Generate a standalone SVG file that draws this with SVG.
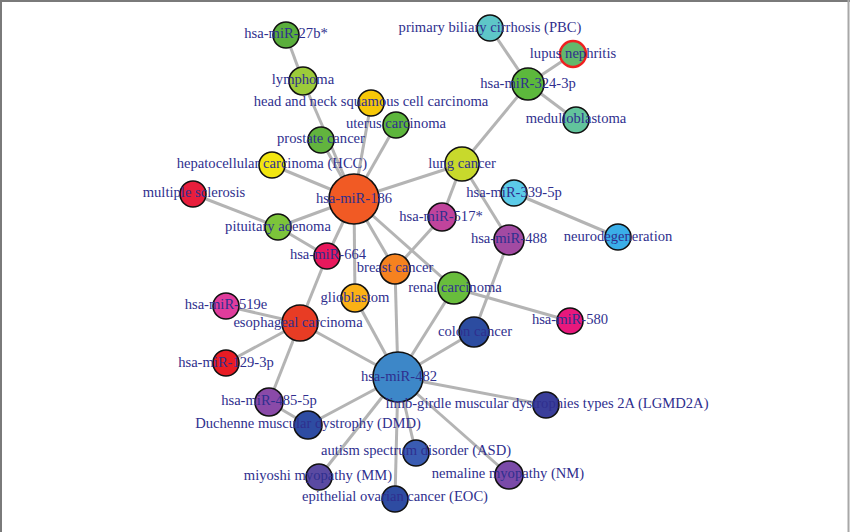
<svg xmlns="http://www.w3.org/2000/svg" width="850" height="532" viewBox="0 0 850 532">
<style>
.e{stroke:#b4b4b4;stroke-width:3;fill:none}
.n{stroke:#111;stroke-width:1.6}
.t{font-family:"Liberation Serif","Times New Roman",serif;font-size:14.6px;fill:#2f2f8e;text-anchor:middle}
</style>
<rect x="0" y="0" width="850" height="532" fill="#fff"/>
<line x1="0" y1="1" x2="850" y2="1" stroke="#7a7a7a" stroke-width="2"/>
<line x1="1" y1="0" x2="1" y2="532" stroke="#7a7a7a" stroke-width="2"/>
<line x1="848.5" y1="0" x2="848.5" y2="532" stroke="#a8a8a8" stroke-width="2"/>
<g id="edges" class="e">
<line x1="286" y1="35" x2="303" y2="81"/>
<line x1="303" y1="81" x2="354" y2="199"/>
<line x1="321" y1="140" x2="354" y2="199"/>
<line x1="371" y1="103" x2="354" y2="199"/>
<line x1="396" y1="125" x2="354" y2="199"/>
<line x1="272" y1="165" x2="354" y2="199"/>
<line x1="193" y1="194" x2="278" y2="227"/>
<line x1="278" y1="227" x2="354" y2="199"/>
<line x1="278" y1="227" x2="327" y2="256"/>
<line x1="327" y1="256" x2="354" y2="199"/>
<line x1="327" y1="256" x2="300" y2="323"/>
<line x1="354" y1="199" x2="462" y2="164"/>
<line x1="354" y1="199" x2="355" y2="298"/>
<line x1="354" y1="199" x2="395" y2="269"/>
<line x1="354" y1="199" x2="454" y2="288"/>
<line x1="462" y1="164" x2="528" y2="84"/>
<line x1="462" y1="164" x2="442" y2="217"/>
<line x1="462" y1="164" x2="509" y2="240"/>
<line x1="528" y1="84" x2="490" y2="28"/>
<line x1="528" y1="84" x2="573" y2="54"/>
<line x1="528" y1="84" x2="576" y2="120"/>
<line x1="442" y1="217" x2="395" y2="269"/>
<line x1="514" y1="193" x2="618" y2="237"/>
<line x1="509" y1="240" x2="474" y2="332"/>
<line x1="454" y1="288" x2="570" y2="321"/>
<line x1="454" y1="288" x2="398" y2="377"/>
<line x1="395" y1="269" x2="398" y2="377"/>
<line x1="355" y1="298" x2="398" y2="377"/>
<line x1="300" y1="323" x2="398" y2="377"/>
<line x1="300" y1="323" x2="226" y2="306"/>
<line x1="300" y1="323" x2="226" y2="363"/>
<line x1="300" y1="323" x2="269" y2="402"/>
<line x1="398" y1="377" x2="474" y2="332"/>
<line x1="398" y1="377" x2="546" y2="405"/>
<line x1="398" y1="377" x2="509" y2="475"/>
<line x1="398" y1="377" x2="416" y2="453"/>
<line x1="398" y1="377" x2="395" y2="499"/>
<line x1="398" y1="377" x2="319" y2="477"/>
<line x1="398" y1="377" x2="308" y2="425"/>
<line x1="269" y1="402" x2="308" y2="425"/>
</g>
<g id="miR-186"><circle class="n" cx="354" cy="199" r="25" fill="#f15a24"/><text class="t" x="354" y="203">hsa-miR-186</text></g>
<g id="miR-482"><circle class="n" cx="398" cy="377" r="25" fill="#3d87c8"/><text class="t" x="399" y="381">hsa-miR-482</text></g>
<g id="miR-27b"><circle class="n" cx="286" cy="35" r="13" fill="#5aae3c"/><text class="t" x="286" y="38">hsa-miR-27b*</text></g>
<g id="lymphoma"><circle class="n" cx="303" cy="81" r="14" fill="#9ccb3a"/><text class="t" x="303" y="84">lymphoma</text></g>
<g id="hnscc"><circle class="n" cx="371" cy="103" r="13" fill="#f7c808"/><text class="t" x="371" y="106">head and neck squamous cell carcinoma</text></g>
<g id="uterus"><circle class="n" cx="396" cy="125" r="13" fill="#5db63c"/><text class="t" x="396" y="128">uterus carcinoma</text></g>
<g id="prostate"><circle class="n" cx="321" cy="140" r="13" fill="#62b43e"/><text class="t" x="321" y="143">prostate cancer</text></g>
<g id="hcc"><circle class="n" cx="272" cy="165" r="13" fill="#f2e610"/><text class="t" x="272" y="168">hepatocellular carcinoma (HCC)</text></g>
<g id="pbc"><circle class="n" cx="490" cy="28" r="13" fill="#5ec6c8"/><text class="t" x="490" y="32">primary biliary cirrhosis (PBC)</text></g>
<g id="lupus"><circle cx="573" cy="54" r="13" fill="#62b86c" stroke="#ee2020" stroke-width="2.5"/><text class="t" x="573" y="58">lupus nephritis</text></g>
<g id="miR-324"><circle class="n" cx="528" cy="84" r="16" fill="#5cb83c"/><text class="t" x="528" y="88">hsa-miR-324-3p</text></g>
<g id="medullo"><circle class="n" cx="576" cy="120" r="13" fill="#62c49c"/><text class="t" x="576" y="123">medulloblastoma</text></g>
<g id="lung"><circle class="n" cx="462" cy="164" r="17" fill="#c8d92c"/><text class="t" x="462" y="168">lung cancer</text></g>
<g id="ms"><circle class="n" cx="193" cy="194" r="13" fill="#e81e3c"/><text class="t" x="194" y="197">multiple sclerosis</text></g>
<g id="pituitary"><circle class="n" cx="278" cy="227" r="13" fill="#7cc43a"/><text class="t" x="278" y="231">pituitary adenoma</text></g>
<g id="miR-664"><circle class="n" cx="327" cy="256" r="13" fill="#e8185c"/><text class="t" x="328" y="259">hsa-miR-664</text></g>
<g id="miR-517"><circle class="n" cx="442" cy="217" r="14" fill="#c0449c"/><text class="t" x="441" y="221">hsa-miR-517*</text></g>
<g id="miR-339"><circle class="n" cx="514" cy="193" r="13" fill="#5ccbe8"/><text class="t" x="514" y="197">hsa-miR-339-5p</text></g>
<g id="miR-488"><circle class="n" cx="509" cy="240" r="15" fill="#a24aa2"/><text class="t" x="509" y="243">hsa-miR-488</text></g>
<g id="neuro"><circle class="n" cx="618" cy="237" r="13" fill="#3aaee8"/><text class="t" x="618" y="241">neurodegeneration</text></g>
<g id="breast"><circle class="n" cx="395" cy="269" r="15" fill="#f5821f"/><text class="t" x="395" y="272">breast cancer</text></g>
<g id="glioblastom"><circle class="n" cx="355" cy="298" r="14" fill="#fbb116"/><text class="t" x="355" y="302">glioblastom</text></g>
<g id="renal"><circle class="n" cx="454" cy="288" r="16" fill="#68bd3c"/><text class="t" x="455" y="292">renal carcinoma</text></g>
<g id="miR-580"><circle class="n" cx="570" cy="321" r="13" fill="#e8187c"/><text class="t" x="570" y="324">hsa-miR-580</text></g>
<g id="colon"><circle class="n" cx="474" cy="332" r="15" fill="#2c4ca0"/><text class="t" x="475" y="336">colon cancer</text></g>
<g id="miR-519e"><circle class="n" cx="226" cy="306" r="13" fill="#e03c9c"/><text class="t" x="226" y="309">hsa-miR-519e</text></g>
<g id="esophageal"><circle class="n" cx="300" cy="323" r="18" fill="#e83c24"/><text class="t" x="298" y="327">esophageal carcinoma</text></g>
<g id="miR-129"><circle class="n" cx="226" cy="363" r="13" fill="#e81c24"/><text class="t" x="226" y="367">hsa-miR-129-3p</text></g>
<g id="miR-485"><circle class="n" cx="269" cy="402" r="14" fill="#8a4aa8"/><text class="t" x="269" y="405">hsa-miR-485-5p</text></g>
<g id="dmd"><circle class="n" cx="308" cy="425" r="14" fill="#2e4ca2"/><text class="t" x="308" y="428">Duchenne muscular dystrophy (DMD)</text></g>
<g id="lgmd2a"><circle class="n" cx="546" cy="405" r="13" fill="#3a3e9a"/><text class="t" x="547" y="408">limb-girdle muscular dystrophies types 2A (LGMD2A)</text></g>
<g id="asd"><circle class="n" cx="416" cy="453" r="13" fill="#3a5cb2"/><text class="t" x="416" y="455">autism spectrum disorder (ASD)</text></g>
<g id="mm"><circle class="n" cx="319" cy="477" r="13" fill="#5a4aa2"/><text class="t" x="318" y="480">miyoshi myopathy (MM)</text></g>
<g id="nm"><circle class="n" cx="509" cy="475" r="14" fill="#7a4aa8"/><text class="t" x="508" y="478">nemaline myopathy (NM)</text></g>
<g id="eoc"><circle class="n" cx="395" cy="499" r="13" fill="#2e4ca2"/><text class="t" x="395" y="501">epithelial ovarian cancer (EOC)</text></g>
</svg>
